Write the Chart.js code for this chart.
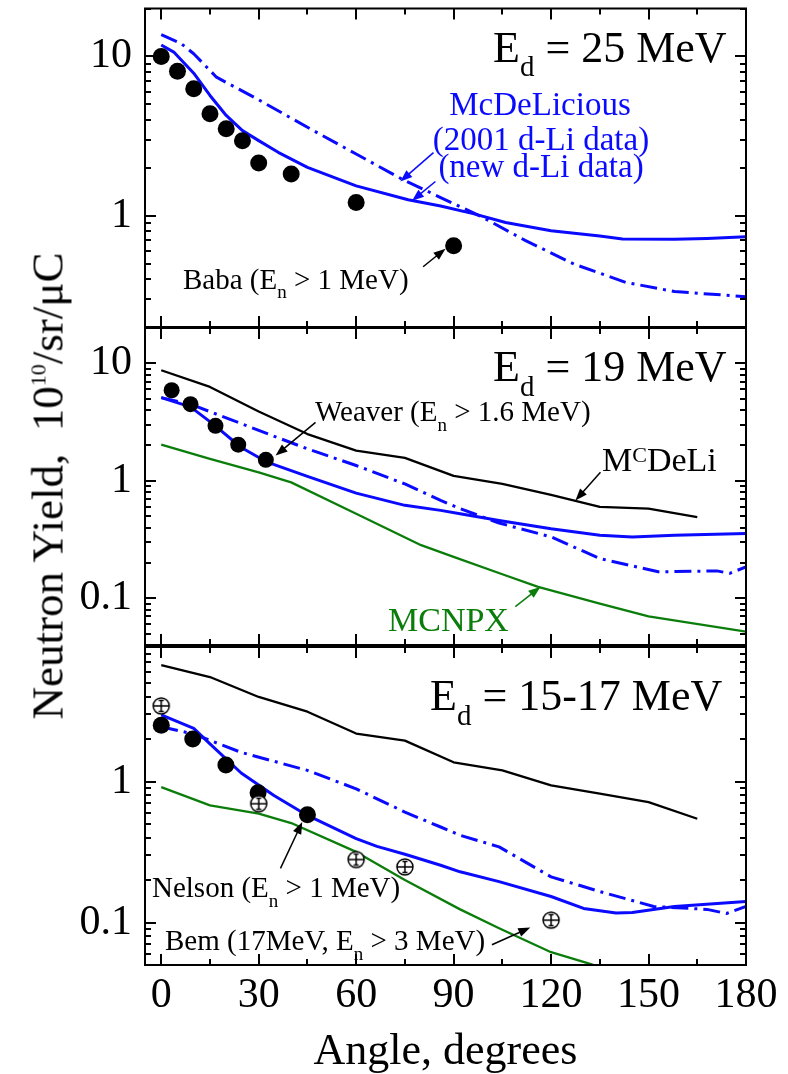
<!DOCTYPE html>
<html>
<head>
<meta charset="utf-8">
<script src="https://cdn.jsdelivr.net/npm/chart.js@4.4.1/dist/chart.umd.min.js"></script>
<style>
  html, body { margin: 0; padding: 0; background: #fff; }
  #wrap { position: relative; width: 788px; height: 1074px; overflow: hidden; font-family: "Liberation Serif", "Times New Roman", serif; }
  #wrap canvas { position: absolute; left: 0; }
  #ytitle {
    position: absolute; left: 48px; top: 486px;
    transform: translate(-50%, -50%) rotate(-90deg);
    font-size: 45px; line-height: 1; white-space: nowrap; color: #000;
  }
  #ytitle .sup { font-size: 22px; position: relative; top: -17px; }
</style>
</head>
<body>
<div id="wrap">
  <canvas id="c1" width="788" height="336" style="top:0px"></canvas>
  <canvas id="c2" width="788" height="335" style="top:320px"></canvas>
  <canvas id="c3" width="788" height="436" style="top:638px"></canvas>
  <div id="ytitle">Neutron Yield,&nbsp; 10<span class="sup">10</span>/sr/μC</div>
</div>
<script>
  // ---- axis ----
  const ANGLE_MIN = -5;
  const ANGLE_MAX = 180;
  const X_LABELED = [0, 30, 60, 90, 120, 150, 180];
  const X_MINOR = [15, 45, 75, 105, 135, 165];

  // ---- panel 1: Ed = 25 MeV ----
  const P1_RANGE = [0.2, 20];
  const P1_LABELS = [1, 10];
  const P1_BABA_ANG = [0, 5, 10, 15, 20, 25, 30, 40, 60, 90];
  const P1_BABA = [10.0, 8.08, 6.26, 4.36, 3.51, 2.96, 2.14, 1.83, 1.21, 0.648];
  const P1_NEW_ANG = [0, 4, 10, 15, 20, 25, 30, 36, 45, 60, 76, 86, 96, 106, 120, 135, 142, 158, 168, 180];
  const P1_NEW = [11.8, 10.6, 7.85, 5.69, 4.26, 3.42, 2.96, 2.5, 2.01, 1.54, 1.26, 1.15, 1.03, 0.907, 0.805, 0.745, 0.714, 0.712, 0.72, 0.738];
  const P1_OLD_ANG = [0, 6, 10, 17, 30, 45, 60, 74, 86, 99, 112, 127, 143, 158, 180];
  const P1_OLD = [13.7, 12.1, 10.4, 7.41, 5.34, 3.59, 2.44, 1.70, 1.30, 0.976, 0.70, 0.497, 0.381, 0.334, 0.31];

  // ---- panel 2: Ed = 19 MeV ----
  const P2_RANGE = [0.04, 20];
  const P2_LABELS = [0.1, 1, 10];
  const P2_WEAVER_ANG = [3.2, 9, 16.7, 23.7, 32.2];
  const P2_WEAVER = [5.9, 4.49, 2.94, 2.03, 1.51];
  const P2_MCDELI_ANG = [0, 15, 30, 45, 60, 75, 90, 105, 120, 135, 150, 165];
  const P2_MCDELI = [8.73, 6.3, 3.89, 2.5, 1.81, 1.57, 1.1, 0.94, 0.76, 0.60, 0.58, 0.49];
  const P2_NEW_ANG = [0, 9, 16, 24.5, 32.6, 45, 60, 75, 86, 92, 104, 120, 135, 145, 158, 180];
  const P2_NEW = [5.11, 4.26, 3.04, 1.93, 1.44, 1.09, 0.785, 0.618, 0.56, 0.525, 0.46, 0.39, 0.344, 0.333, 0.344, 0.356];
  const P2_OLD_ANG = [0, 9, 21, 33, 45, 60, 75, 86, 92, 104, 120, 135, 153, 171, 175, 180];
  const P2_OLD = [5.11, 4.49, 3.35, 2.5, 1.87, 1.35, 0.94, 0.68, 0.58, 0.437, 0.333, 0.218, 0.168, 0.171, 0.163, 0.185];
  const P2_MCNPX_ANG = [0, 15, 30, 40, 60, 80, 90, 105, 116, 135, 150, 180];
  const P2_MCNPX = [2.03, 1.54, 1.18, 0.97, 0.525, 0.283, 0.225, 0.16, 0.125, 0.09, 0.07, 0.052];

  // ---- panel 3: Ed = 15-17 MeV ----
  const P3_RANGE = [0.05, 9];
  const P3_LABELS = [0.1, 1];
  const P3_NELSON_ANG = [0, 9.7, 19.9, 29.8, 45];
  const P3_NELSON = [2.51, 2.0, 1.31, 0.832, 0.582];
  const P3_BEM_ANG = [0, 30, 60, 75, 120];
  const P3_BEM = [3.44, 0.696, 0.28, 0.248, 0.104];
  const P3_MCDELI_ANG = [0, 15, 30, 45, 60, 75, 90, 105, 120, 135, 150, 165];
  const P3_MCDELI = [6.69, 5.51, 3.98, 3.13, 2.19, 1.95, 1.37, 1.2, 0.94, 0.82, 0.714, 0.545];
  const P3_NEW_ANG = [0, 10, 15, 24.6, 34.7, 45, 60, 66.4, 75, 86, 92, 104, 120, 130, 140, 145, 158, 180];
  const P3_NEW = [2.97, 2.38, 1.85, 1.15, 0.797, 0.575, 0.394, 0.347, 0.305, 0.255, 0.229, 0.195, 0.153, 0.126, 0.117, 0.118, 0.13, 0.141];
  const P3_OLD_ANG = [0, 10, 24.6, 45, 60, 75, 86, 92, 104, 120, 135, 151.6, 168, 174, 180];
  const P3_OLD = [2.45, 2.17, 1.61, 1.2, 0.888, 0.607, 0.476, 0.416, 0.344, 0.211, 0.166, 0.13, 0.124, 0.116, 0.13];
  const P3_MCNPX_ANG = [0, 15, 30, 40, 60, 75, 92, 104, 120, 132, 150];
  const P3_MCNPX = [0.912, 0.677, 0.592, 0.508, 0.317, 0.2, 0.124, 0.091, 0.0616, 0.051, 0.036];

  const FONT = '"Liberation Serif", "Times New Roman", serif';
  const BLUE = "#0a0aff";
  const GREEN = "#0b7d0b";
  const DASHDOT = [17, 6, 3, 6];

  const pts = (a, v) => a.map((x, i) => ({ x, y: v[i] }));

  function logTicks(min, max) {
    const out = [];
    for (let e = Math.floor(Math.log10(min)); e <= Math.ceil(Math.log10(max)); e++) {
      for (let m = 1; m <= 9; m++) {
        const v = +(m * Math.pow(10, e)).toPrecision(6);
        if (v >= min - 1e-9 && v <= max + 1e-9) out.push(v);
      }
    }
    return out;
  }

  function curve(ang, val, color, width, dash) {
    return {
      data: pts(ang, val), showLine: true, borderColor: color, borderWidth: width,
      borderDash: dash || [], borderJoinStyle: "round", pointRadius: 0, tension: 0, fill: false,
    };
  }

  function dots(ang, val, r) {
    return {
      data: pts(ang, val), showLine: false, pointRadius: r, pointStyle: "circle",
      pointBackgroundColor: "#000", pointBorderColor: "#000", pointBorderWidth: 0,
    };
  }

  function openMarker() {
    const c = document.createElement("canvas");
    c.width = 20; c.height = 20;
    const g = c.getContext("2d");
    g.fillStyle = "#fff"; g.strokeStyle = "#000"; g.lineWidth = 1.5;
    g.beginPath(); g.arc(10, 10, 8, 0, Math.PI * 2); g.fill(); g.stroke();
    g.beginPath();
    g.moveTo(2, 10); g.lineTo(18, 10);
    g.moveTo(10, 4.5); g.lineTo(10, 15.5);
    g.moveTo(7.5, 4.5); g.lineTo(12.5, 4.5);
    g.moveTo(7.5, 15.5); g.lineTo(12.5, 15.5);
    g.stroke();
    return c;
  }

  function drawRich(ctx, x, y, parts, size, color, align) {
    const segs = parts.map(([t, mode]) => {
      const s = mode ? Math.round(size * 0.65) : size;
      ctx.font = `${s}px ${FONT}`;
      const dy = mode === "sub" ? size * 0.33 : mode === "sup" ? -size * 0.27 : 0;
      return { t, s, dy, w: ctx.measureText(t).width };
    });
    const total = segs.reduce((a, g) => a + g.w, 0);
    let cx = align === "center" ? x - total / 2 : x;
    ctx.fillStyle = color || "#000";
    ctx.textAlign = "left";
    ctx.textBaseline = "alphabetic";
    segs.forEach((g) => {
      ctx.font = `${g.s}px ${FONT}`;
      ctx.fillText(g.t, cx, y + g.dy);
      cx += g.w;
    });
  }

  function drawArrow(ctx, x0, y0, x1, y1, color) {
    const a = Math.atan2(y1 - y0, x1 - x0);
    const L = 12, W = 4.5;
    ctx.setLineDash([]);
    ctx.strokeStyle = color; ctx.fillStyle = color; ctx.lineWidth = 1.5;
    ctx.beginPath();
    ctx.moveTo(x0, y0);
    ctx.lineTo(x1 - L * 0.8 * Math.cos(a), y1 - L * 0.8 * Math.sin(a));
    ctx.stroke();
    ctx.beginPath();
    ctx.moveTo(x1, y1);
    ctx.lineTo(x1 - L * Math.cos(a) + W * Math.sin(a), y1 - L * Math.sin(a) - W * Math.cos(a));
    ctx.lineTo(x1 - L * Math.cos(a) - W * Math.sin(a), y1 - L * Math.sin(a) + W * Math.cos(a));
    ctx.closePath();
    ctx.fill();
  }

  // frame, inward ticks on all four sides, arrows and labels
  function makeDecor(cfg) {
    return {
      id: "panelDecor",
      afterDraw(chart) {
        const { ctx, chartArea: a } = chart;
        const xs = chart.scales.x, ys = chart.scales.y;
        const tw = 2;
        ctx.save();
        ctx.setLineDash([]);
        ctx.fillStyle = "#000";
        X_LABELED.concat(X_MINOR).forEach((v) => {
          const len = X_LABELED.includes(v) ? 11 : 6;
          const px = Math.round(xs.getPixelForValue(v));
          ctx.fillRect(px - tw / 2, a.bottom - len, tw, len);
          ctx.fillRect(px - tw / 2, a.top, tw, len);
        });
        cfg.yTicks.forEach((v) => {
          const major = Math.abs(Math.log10(v) - Math.round(Math.log10(v))) < 1e-6;
          const len = major ? 11 : 6;
          const py = Math.round(ys.getPixelForValue(v));
          ctx.fillRect(a.left, py - tw / 2, len, tw);
          ctx.fillRect(a.right - len, py - tw / 2, len, tw);
        });
        ctx.strokeStyle = "#000";
        ctx.lineWidth = 2;
        ctx.strokeRect(a.left, a.top, a.right - a.left, a.bottom - a.top);

        cfg.arrows.forEach((ar) => {
          drawArrow(ctx,
            xs.getPixelForValue(ar.from[0]), ys.getPixelForValue(ar.from[1]),
            xs.getPixelForValue(ar.to[0]), ys.getPixelForValue(ar.to[1]), ar.color || "#000");
        });
        cfg.notes.forEach((n) => drawRich(ctx, a.left + n.dx, a.top + n.dy, n.parts, n.size, n.color, n.align));
        ctx.restore();
      },
    };
  }

  function makePanel(id, cfg) {
    const bottom = !!cfg.bottom;
    const yTicks = logTicks(cfg.range[0], cfg.range[1]);
    return new Chart(document.getElementById(id), {
      type: "scatter",
      data: { datasets: cfg.datasets },
      options: {
        responsive: false,
        animation: false,
        events: [],
        layout: { padding: { top: cfg.padTop, bottom: cfg.padBottom, left: 0, right: 42 } },
        plugins: { legend: { display: false }, tooltip: { enabled: false } },
        scales: {
          x: {
            type: "linear", min: ANGLE_MIN, max: ANGLE_MAX, display: bottom,
            afterBuildTicks: (s) => { s.ticks = X_LABELED.map((v) => ({ value: v })); },
            afterFit: (s) => {
              s.height = bottom ? 109 : 0;
              s.paddingLeft = 0; s.paddingRight = 0;
            },
            grid: { display: false, drawTicks: false },
            border: { display: false },
            ticks: { color: "#000", padding: 10, maxRotation: 0, autoSkip: false, font: { family: FONT, size: 42, lineHeight: 1 } },
            title: { display: true, text: "Angle, degrees", color: "#000", padding: { top: 0, bottom: 0 }, font: { family: FONT, size: 44, lineHeight: 1 } },
          },
          y: {
            type: "logarithmic", min: cfg.range[0], max: cfg.range[1],
            afterBuildTicks: (s) => { s.ticks = yTicks.map((v) => ({ value: v })); },
            afterFit: (s) => {
              s.width = 145;
              s.paddingTop = 0; s.paddingBottom = 0;
            },
            grid: { display: false, drawTicks: false },
            border: { display: false },
            ticks: {
              color: "#000", padding: 13, autoSkip: false,
              font: { family: FONT, size: 42, lineHeight: 1 },
              callback: (v) => (cfg.labels.includes(v) ? String(v) : ""),
            },
          },
        },
      },
      plugins: [makeDecor({ yTicks, arrows: cfg.arrows, notes: cfg.notes })],
    });
  }

  const sub = (t) => [t, "sub"];
  const sup = (t) => [t, "sup"];

  makePanel("c1", {
    range: P1_RANGE, labels: P1_LABELS, padTop: 6, padBottom: 9,
    datasets: [
      dots(P1_BABA_ANG, P1_BABA, 8.5),
      curve(P1_NEW_ANG, P1_NEW, BLUE, 3),
      curve(P1_OLD_ANG, P1_OLD, BLUE, 3, DASHDOT),
    ],
    arrows: [
      { from: [83.8, 2.49], to: [73.6, 1.64], color: BLUE },
      { from: [84.4, 1.64], to: [77.2, 1.24], color: BLUE },
      { from: [80.6, 0.478], to: [87.5, 0.62] },
    ],
    notes: [
      { dx: 348, dy: 53, size: 44, parts: [["E"], sub("d"), [" = 25 MeV"]] },
      { dx: 395, dy: 106, size: 33, color: BLUE, align: "center", parts: [["McDeLicious"]] },
      { dx: 396, dy: 141, size: 33, color: BLUE, align: "center", parts: [["(2001 d-Li data)"]] },
      { dx: 396, dy: 168, size: 33, color: BLUE, align: "center", parts: [["(new d-Li data)"]] },
      { dx: 38, dy: 280, size: 29, parts: [["Baba (E"], sub("n"), [" > 1 MeV)"]] },
    ],
  });

  makePanel("c2", {
    range: P2_RANGE, labels: P2_LABELS, padTop: 6, padBottom: 10,
    datasets: [
      dots(P2_WEAVER_ANG, P2_WEAVER, 8),
      curve(P2_MCDELI_ANG, P2_MCDELI, "#000", 2.3),
      curve(P2_NEW_ANG, P2_NEW, BLUE, 3),
      curve(P2_OLD_ANG, P2_OLD, BLUE, 3, DASHDOT),
      curve(P2_MCNPX_ANG, P2_MCNPX, GREEN, 2.3),
    ],
    arrows: [
      { from: [47.5, 3.14], to: [35.2, 1.64] },
      { from: [135.2, 1.18], to: [127.5, 0.68] },
      { from: [109, 0.085], to: [116.7, 0.125], color: GREEN },
    ],
    notes: [
      { dx: 348, dy: 53, size: 44, parts: [["E"], sub("d"), [" = 19 MeV"]] },
      { dx: 170, dy: 93, size: 29, parts: [["Weaver (E"], sub("n"), [" > 1.6 MeV)"]] },
      { dx: 457, dy: 143, size: 34, parts: [["M"], sup("C"), ["DeLi"]] },
      { dx: 243, dy: 303, size: 34, color: GREEN, parts: [["MCNPX"]] },
    ],
  });

  makePanel("c3", {
    bottom: true, range: P3_RANGE, labels: P3_LABELS, padTop: 6, padBottom: 0,
    datasets: [
      { data: pts(P3_BEM_ANG, P3_BEM), showLine: false, pointRadius: 8, pointStyle: openMarker() },
      dots(P3_NELSON_ANG, P3_NELSON, 8.5),
      curve(P3_MCDELI_ANG, P3_MCDELI, "#000", 2.3),
      curve(P3_NEW_ANG, P3_NEW, BLUE, 3),
      curve(P3_OLD_ANG, P3_OLD, BLUE, 3, DASHDOT),
      curve(P3_MCNPX_ANG, P3_MCNPX, GREEN, 2.3),
    ],
    arrows: [
      { from: [36.7, 0.242], to: [43.4, 0.516] },
      { from: [101.8, 0.0696], to: [113.6, 0.0922] },
    ],
    notes: [
      { dx: 285, dy: 63, size: 44, parts: [["E"], sub("d"), [" = 15-17 MeV"]] },
      { dx: 7, dy: 250, size: 29, parts: [["Nelson (E"], sub("n"), [" > 1 MeV)"]] },
      { dx: 20, dy: 303, size: 29, parts: [["Bem (17MeV, E"], sub("n"), [" > 3 MeV)"]] },
    ],
  });
</script>
</body>
</html>
